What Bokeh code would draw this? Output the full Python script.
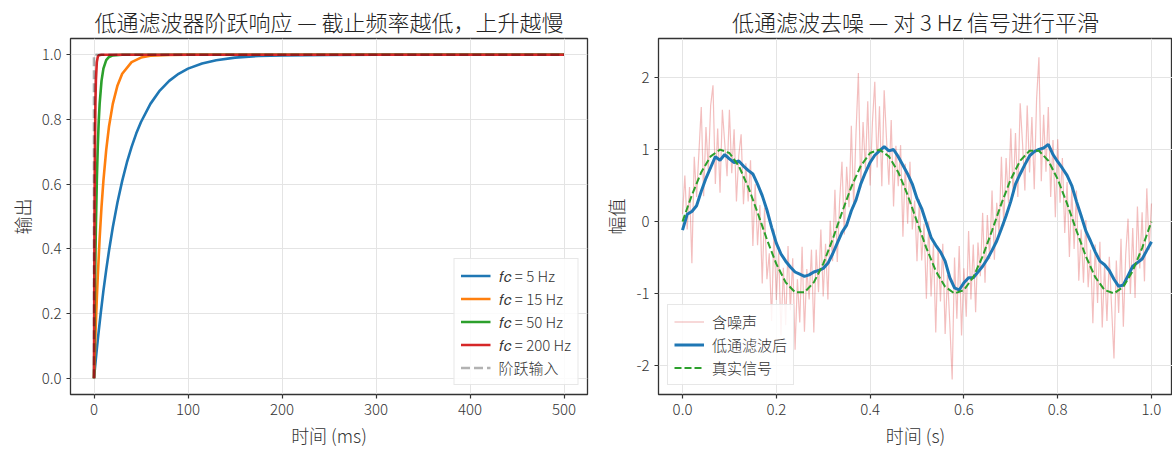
from bokeh.plotting import figure
from bokeh.layouts import row
from bokeh.models import NumeralTickFormatter, FixedTicker, Range1d
from bokeh.embed import file_html
from bokeh.resources import INLINE
import numpy as np

FONT = "Noto Sans CJK SC Light"

# ---------------- left panel data: step responses ----------------
title_left = "低通滤波器阶跃响应 — 截止频率越低，上升越慢"
xlabel_left = "时间 (ms)"
ylabel_left = "输出"
left_xticks = [0, 100, 200, 300, 400, 500]
left_yticks = [0.0, 0.2, 0.4, 0.6, 0.8, 1.0]

t_fc5 = [0, 1, 2, 3, 4, 5, 7, 10, 13, 16, 20, 25, 30, 35, 40, 45, 50, 60, 70, 80,
         90, 100, 115, 130, 150, 175, 200, 250, 300, 400, 500]
y_fc5 = [0, 0.031, 0.061, 0.090, 0.118, 0.145, 0.197, 0.270, 0.335, 0.395, 0.467,
         0.544, 0.610, 0.667, 0.715, 0.757, 0.792, 0.848, 0.889, 0.919, 0.941,
         0.957, 0.973, 0.983, 0.991, 0.996, 0.998, 0.999, 1.0, 1.0, 1.0]
t_fc15 = [0, 1, 2, 3, 4, 6, 8, 10, 13, 16, 20, 25, 30, 40, 50, 60, 80, 100, 500]
y_fc15 = [0, 0.090, 0.172, 0.246, 0.314, 0.432, 0.530, 0.610, 0.706, 0.779, 0.848,
          0.905, 0.941, 0.977, 0.991, 0.997, 0.999, 1.0, 1.0]
t_fc50 = [0, 0.5, 1, 1.5, 2, 3, 4, 5, 6, 8, 10, 13, 16, 20, 30, 500]
y_fc50 = [0, 0.145, 0.270, 0.376, 0.467, 0.610, 0.715, 0.792, 0.848, 0.919, 0.957,
          0.983, 0.993, 0.998, 1.0, 1.0]
t_fc200 = [0, 0.25, 0.5, 0.75, 1, 1.5, 2, 3, 4, 5, 8, 500]
y_fc200 = [0, 0.270, 0.467, 0.610, 0.715, 0.848, 0.919, 0.977, 0.993, 0.998, 1.0, 1.0]
t_step = [0, 0, 500]
y_step = [0, 1, 1]
step_labels = ["𝑓𝑐 = 5 Hz", "𝑓𝑐 = 15 Hz", "𝑓𝑐 = 50 Hz", "𝑓𝑐 = 200 Hz", "阶跃输入"]

# ---------------- right panel data: denoising ----------------
title_right = "低通滤波去噪 — 对 3 Hz 信号进行平滑"
xlabel_right = "时间 (s)"
ylabel_right = "幅值"
right_xticks = [0.0, 0.2, 0.4, 0.6, 0.8, 1.0]
right_yticks = [-2, -1, 0, 1, 2]
denoise_labels = ["含噪声", "低通滤波后", "真实信号"]

noisy = [
    0.10, 0.64, -0.11, 0.48, -0.58, 0.90, 0.34, 0.96, 1.59, 0.35,
    1.31, 0.71, 1.61, 1.89, 0.52, 1.29, 0.40, 1.55, 1.09, 0.63,
    1.55, 0.67, 1.28, 0.28, 0.92, 1.21, 0.24, 0.81, 0.28, 0.85,
    -0.34, 0.52, -0.33, 0.23, -0.86, 0.19, -0.80, -0.44, -1.38, -0.11,
    -1.09, -0.41, -1.58, -0.64, -1.44, -0.34, -1.23, -0.51, -1.78, -0.80,
    -1.40, -0.35, -1.53, -0.66, -1.08, -0.39, -1.54, -0.39, -0.98, -0.11,
    -1.04, -0.31, -1.08, 0.01, -0.55, 0.44, -0.56, 0.28, 0.83, -0.18,
    0.76, 0.20, 1.33, 0.21, 1.24, 2.06, 0.47, 1.38, 0.73, 1.67,
    0.50, 1.38, 1.94, 0.75, 1.60, 0.49, 1.82, 1.14, 0.51, 1.41,
    0.21, 1.05, 0.49, 1.06, -0.21, 0.80, -0.03, 0.83, -0.11, 0.29,
    -0.55, 0.31, -0.54, -0.03, -1.07, 0.00, -1.04, -0.31, -1.54, -0.35,
    -1.11, -0.31, -1.56, -0.74, -1.42, -2.19, -0.50, -1.35, -0.34, -1.58,
    -0.65, -1.32, -0.13, -1.08, -0.32, -1.26, -0.29, -0.76, 0.12, -0.85,
    0.09, -0.52, 0.43, -0.53, 0.26, -0.19, 0.90, -0.06, 0.88, 0.26,
    1.29, 0.36, 1.23, 0.34, 1.64, 1.09, 0.43, 1.61, 0.68, 1.45,
    0.45, 1.70, 2.28, 0.56, 1.48, 0.69, 1.59, 0.34, 1.13, 0.06,
    1.14, 0.26, 0.88, -0.16, 0.55, -0.49, 0.46, -0.38, 0.43, -0.82,
    -0.11, -0.85, 0.02, -0.91, -0.39, -1.41, -0.32, -1.13, -0.28, -1.47,
    -0.60, -1.38, -0.49, -1.20, -1.90, -0.54, -1.27, -0.24, -1.46, -0.46,
    0.04, -1.00, -0.09, -1.06, 0.21, -0.65, 0.13, -0.83, 0.46, -0.39, 0.25,
]
t_noisy = np.linspace(0, 1, len(noisy))

filtered = [
    -0.12, 0.10, 0.14, 0.22, 0.42, 0.60, 0.75, 0.90, 0.85, 0.93,
    0.87, 0.82, 0.84, 0.77, 0.71, 0.66, 0.52, 0.36, 0.16, -0.08,
    -0.30, -0.45, -0.55, -0.63, -0.70, -0.73, -0.76, -0.74, -0.70, -0.68,
    -0.65, -0.58, -0.45, -0.30, -0.15, -0.05, 0.15, 0.30, 0.52, 0.68,
    0.82, 0.92, 0.98, 1.04, 0.98, 1.00, 0.90, 0.78, 0.66, 0.52,
    0.32, 0.18, -0.02, -0.22, -0.33, -0.42, -0.55, -0.78, -0.92, -0.95,
    -0.85, -0.78, -0.78, -0.70, -0.62, -0.52, -0.40, -0.27, -0.10, 0.08,
    0.28, 0.52, 0.66, 0.79, 0.91, 0.97, 1.00, 1.02, 1.07, 0.93,
    0.83, 0.74, 0.64, 0.50, 0.28, 0.08, -0.13, -0.27, -0.42, -0.55,
    -0.60, -0.68, -0.80, -0.90, -0.88, -0.75, -0.62, -0.57, -0.52, -0.40,
    -0.28,
]
t_filtered = np.linspace(0, 1, len(filtered))

true_sig = [
    0.0, 0.368, 0.685, 0.905, 0.998, 0.951, 0.771, 0.482, 0.125, -0.249,
    -0.588, -0.844, -0.982, -0.982, -0.844, -0.588, -0.249, 0.125, 0.482, 0.771,
    0.951, 0.998, 0.905, 0.685, 0.368, 0.0, -0.368, -0.685, -0.905, -0.998,
    -0.951, -0.771, -0.482, -0.125, 0.249, 0.588, 0.844, 0.982, 0.982, 0.844,
    0.588, 0.249, -0.125, -0.482, -0.771, -0.951, -0.998, -0.905, -0.685, -0.368,
    0.0,
]
t_true = np.linspace(0, 1, len(true_sig))

BLUE, ORANGE, GREEN, RED = "#1f77b4", "#ff7f0e", "#2ca02c", "#d62728"


def style(p):
    p.title.text_font = FONT
    p.title.text_font_size = "22px"
    p.title.text_font_style = "normal"
    p.title.align = "center"
    p.title.text_color = "#222222"
    p.title.standoff = 4
    p.outline_line_color = "#333333"
    p.outline_line_width = 1.3
    p.outline_line_alpha = 1.0
    for ax in p.axis:
        ax.axis_line_color = None
        ax.major_tick_out = 4
        ax.major_tick_in = 0
        ax.major_tick_line_color = "#333333"
        ax.major_tick_line_width = 1.2
        ax.minor_tick_line_color = None
        ax.major_label_text_font = FONT
        ax.major_label_text_font_size = "15px"
        ax.major_label_text_color = "#333333"
        ax.major_label_standoff = 5
        ax.axis_label_text_font = FONT
        ax.axis_label_text_font_size = "18px"
        ax.axis_label_text_font_style = "normal"
        ax.axis_label_text_color = "#333333"
        ax.axis_label_standoff = 4
    for g in p.grid:
        g.grid_line_color = "#e4e4e4"
        g.grid_line_width = 1


def style_legend(lg):
    lg.label_text_font = FONT
    lg.label_text_font_size = "15px"
    lg.label_text_color = "#333333"
    lg.glyph_width = 30
    lg.glyph_height = 19
    lg.label_height = 19
    lg.spacing = 2
    lg.padding = 6
    lg.margin = 9
    lg.label_standoff = 8
    lg.border_line_color = "#d0d0d0"
    lg.border_line_width = 1
    lg.background_fill_alpha = 0.85


# ---------------- left figure ----------------
p1 = figure(width=600, height=450, title=title_left,
            x_range=Range1d(-25, 525), y_range=Range1d(-0.05, 1.05),
            output_backend="svg", toolbar_location=None,
            min_border_left=70, min_border_right=13,
            min_border_top=38, min_border_bottom=55)
p1.line(t_fc5, y_fc5, color=BLUE, line_width=2.6, legend_label=step_labels[0])
p1.line(t_fc15, y_fc15, color=ORANGE, line_width=2.6, legend_label=step_labels[1])
p1.line(t_fc50, y_fc50, color=GREEN, line_width=2.6, legend_label=step_labels[2])
p1.line(t_fc200, y_fc200, color=RED, line_width=2.6, legend_label=step_labels[3])
p1.line(t_step, y_step, color="black", line_alpha=0.3, line_width=2.6,
        line_dash="9 4", legend_label=step_labels[4])
p1.xaxis.ticker = FixedTicker(ticks=left_xticks)
p1.yaxis.ticker = FixedTicker(ticks=left_yticks)
p1.yaxis.formatter = NumeralTickFormatter(format="0.0")
p1.xaxis.axis_label = xlabel_left
p1.yaxis.axis_label = ylabel_left
style(p1)
p1.legend.location = "bottom_right"
style_legend(p1.legend)

# ---------------- right figure ----------------
p2 = figure(width=572, height=450, title=title_right,
            x_range=Range1d(-0.0512, 1.0448), y_range=Range1d(-2.40, 2.54),
            output_backend="svg", toolbar_location=None,
            min_border_left=58, min_border_right=0,
            min_border_top=38, min_border_bottom=55)
p2.line(t_noisy, noisy, color=RED, line_alpha=0.3, line_width=1.2,
        legend_label=denoise_labels[0])
p2.line(t_filtered, filtered, color=BLUE, line_width=3.0,
        legend_label=denoise_labels[1])
p2.line(t_true, true_sig, color=GREEN, line_width=2.0, line_dash="7 3",
        legend_label=denoise_labels[2])
p2.xaxis.ticker = FixedTicker(ticks=right_xticks)
p2.yaxis.ticker = FixedTicker(ticks=right_yticks)
p2.xaxis.formatter = NumeralTickFormatter(format="0.0")
p2.yaxis.formatter = NumeralTickFormatter(format="0")
p2.xaxis.axis_label = xlabel_right
p2.yaxis.axis_label = ylabel_right
style(p2)
p2.legend.location = "bottom_left"
style_legend(p2.legend)

layout = row(p1, p2)
open("out.html", "w").write(file_html(layout, INLINE, title="lowpass"))
